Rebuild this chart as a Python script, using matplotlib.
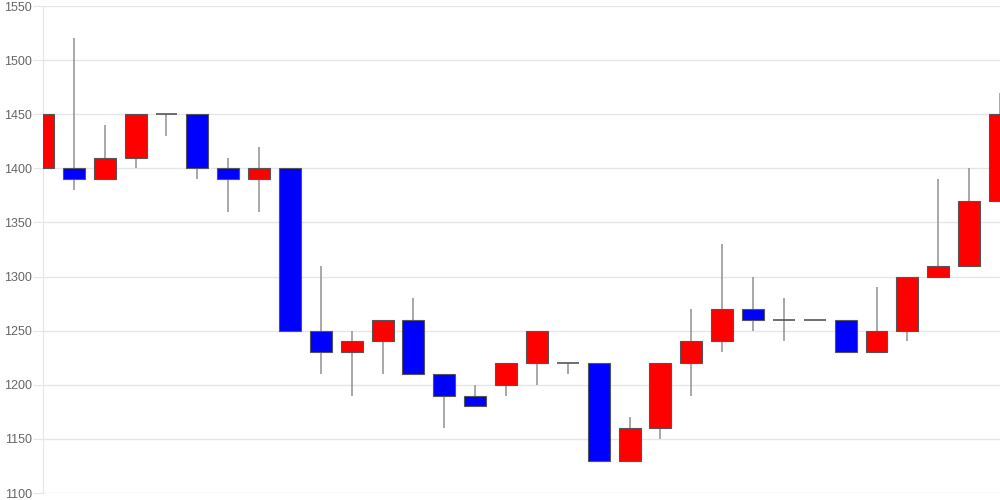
import numpy as np
import matplotlib
matplotlib.use("Agg")
import matplotlib.pyplot as plt

# daily candles
opens = [1400, 1400, 1390, 1410, 1450, 1450, 1400, 1390, 1400, 1250, 1230, 1240,
         1260, 1210, 1190, 1200, 1220, 1220, 1220, 1130, 1160, 1220, 1240, 1270,
         1260, 1260, 1260, 1230, 1250, 1300, 1310, 1370]
closes = [1450, 1390, 1410, 1450, 1450, 1400, 1390, 1400, 1250, 1230, 1240, 1260,
          1210, 1190, 1180, 1220, 1250, 1220, 1130, 1160, 1220, 1240, 1270, 1260,
          1260, 1260, 1230, 1250, 1300, 1310, 1370, 1450]
highs = [1490, 1520, 1440, 1450, 1450, 1450, 1410, 1420, 1400, 1310, 1250, 1260,
         1280, 1210, 1200, 1220, 1250, 1220, 1220, 1170, 1220, 1270, 1330, 1300,
         1280, 1260, 1260, 1290, 1300, 1390, 1400, 1470]
lows = [1400, 1380, 1390, 1400, 1430, 1390, 1360, 1360, 1250, 1210, 1190, 1210,
        1210, 1160, 1180, 1190, 1200, 1210, 1130, 1130, 1150, 1190, 1230, 1250,
        1240, 1260, 1230, 1230, 1240, 1300, 1310, 1370]
yticks = [1100, 1150, 1200, 1250, 1300, 1350, 1400, 1450, 1500, 1550]

plt.rcParams["font.family"] = ["Liberation Sans", "DejaVu Sans"]

fig = plt.figure(figsize=(10, 5), dpi=100)
ax = fig.add_axes([0.043, 0.014, 0.957, 0.974])

x = np.arange(len(opens))
width = 0.71
for i in x:
    o, c = opens[i], closes[i]
    ax.vlines(i, lows[i], highs[i], color="#999999", linewidth=1.2, zorder=2)
    if o == c:
        ax.hlines(o, i - width / 2, i + width / 2, color="#555555", linewidth=1.2, zorder=3)
        continue
    color = "#ff0000" if c > o else "#0000ff"
    ax.bar(i, abs(c - o), bottom=min(o, c), width=width, color=color,
           edgecolor="#555555", linewidth=0.8, zorder=3)

ax.set_xlim(0, len(opens) - 1)
ax.set_ylim(1100, 1550)
ax.set_yticks(yticks)
ax.set_xticks([])
ax.grid(axis="y", color="#e6e6e6", linewidth=1)
ax.set_axisbelow(True)
for side in ["top", "right", "bottom"]:
    ax.spines[side].set_visible(False)
ax.spines["left"].set_color("#e6e6e6")
ax.tick_params(axis="y", length=7.2, color="#e6e6e6", labelsize=9,
               labelcolor="#666666", pad=0.5)

fig.savefig("out.png", dpi=100)
